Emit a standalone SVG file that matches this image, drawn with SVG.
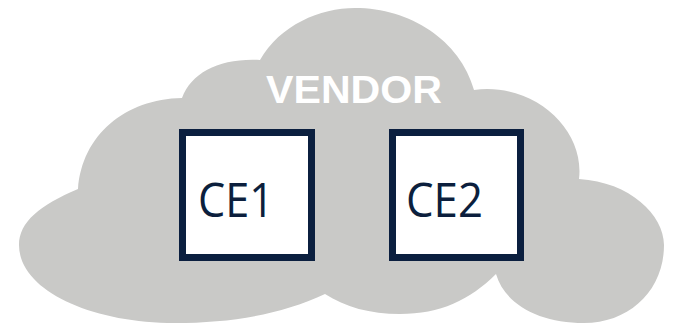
<svg xmlns="http://www.w3.org/2000/svg" width="674" height="324" viewBox="0 0 674 324">
  <style>
    .cloud { fill: #c9c9c7; }
    .box { fill: #ffffff; stroke: #0b1f3f; stroke-width: 7; }
    .ce { font-family: "Open Sans", "Noto Sans", sans-serif; font-size: 47px; fill: #0c1f3d; }
    .title { font-family: "Liberation Sans", Arial, sans-serif; font-weight: bold; font-size: 38.5px; fill: #ffffff; }
  </style>
  <rect width="674" height="324" fill="#ffffff"/>
  <g id="cloud">
    <path class="cloud" d="M 260,60
      C 280,25 320,8 355,8
      C 410,8 460,40 474,90
      C 535,82 585,130 579,179
      C 630,182 664,215 664,245
      C 664,290 630,323 584,323
      C 540,323 505,305 496,274
      C 470,300 440,314 400,314
      C 370,314 345,307 325,294
      C 280,315 230,323 175,323
      C 90,323 19,290 19,245
      C 19,222 40,205 78,189
      C 82,135 125,99 182,98
      C 192,72 220,58 260,60 Z"/>
    <text class="title" x="266" y="103.3" textLength="176" lengthAdjust="spacingAndGlyphs">VENDOR</text>
  </g>
  <g id="connectors"></g>
  <g id="node-ce1">
    <rect class="box" x="182.5" y="132.5" width="129" height="125"/>
    <text class="ce" x="198" y="217" textLength="76" lengthAdjust="spacingAndGlyphs">CE1</text>
  </g>
  <g id="node-ce2">
    <rect class="box" x="392.5" y="132.5" width="128" height="125"/>
    <text class="ce" x="406" y="217" textLength="77" lengthAdjust="spacingAndGlyphs">CE2</text>
  </g>
</svg>
